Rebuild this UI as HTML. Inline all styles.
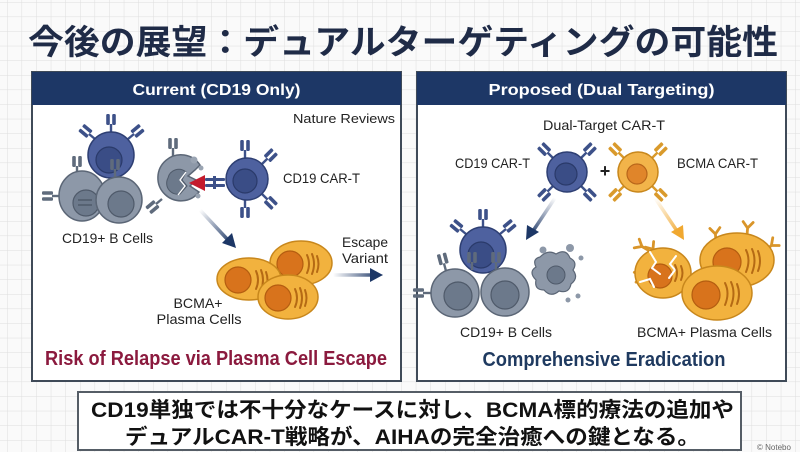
<!DOCTYPE html>
<html><head><meta charset="utf-8"><style>
html,body{margin:0;padding:0;background:#fff;}
svg{display:block;}
text{font-family:"Liberation Sans","Noto Sans CJK JP",sans-serif;}
</style></head><body>
<svg width="800" height="452" viewBox="0 0 800 452" xmlns="http://www.w3.org/2000/svg">
<defs>
<pattern id="grid" width="14.6" height="14.6" patternUnits="userSpaceOnUse" x="7" y="2">
<path d="M14.6 0 L0 0 0 14.6" fill="none" stroke="#dedede" stroke-width="1"/>
</pattern>
<g id="rc"><rect x="-1.2" y="-8" width="2.4" height="8"/><rect x="-4.8" y="-18" width="3.6" height="11" rx="1.2"/><rect x="1.2" y="-18" width="3.6" height="11" rx="1.2"/></g>
<g id="ab" fill="none" stroke-width="2.8" stroke-linecap="round"><path d="M0 0 L0 -7 M0 -7 L-5 -13 M0 -7 L5 -13"/></g>
<linearGradient id="ga1" gradientUnits="userSpaceOnUse" x1="200" y1="210" x2="232" y2="244"><stop offset="0" stop-color="#1d3766" stop-opacity="0"/><stop offset="1" stop-color="#1d3766"/></linearGradient>
<linearGradient id="ga2" gradientUnits="userSpaceOnUse" x1="333" y1="0" x2="380" y2="0"><stop offset="0" stop-color="#1d3766" stop-opacity="0"/><stop offset="1" stop-color="#1d3766"/></linearGradient>
<linearGradient id="ga3" gradientUnits="userSpaceOnUse" x1="555" y1="198" x2="530" y2="236"><stop offset="0" stop-color="#1d3766" stop-opacity="0"/><stop offset="1" stop-color="#1d3766"/></linearGradient>
<linearGradient id="ga4" gradientUnits="userSpaceOnUse" x1="655" y1="198" x2="680" y2="236"><stop offset="0" stop-color="#f0a830" stop-opacity="0"/><stop offset="1" stop-color="#f0a830"/></linearGradient>
</defs>
<rect width="800" height="452" fill="#fafafa"/>
<rect width="800" height="452" fill="url(#grid)"/>

<!-- Title -->
<text x="28" y="54" font-size="34" font-weight="bold" fill="#1f2b47" textLength="750" lengthAdjust="spacingAndGlyphs">今後の展望：デュアルターゲティングの可能性</text>

<!-- Left panel -->
<rect x="32" y="72" width="369" height="309" fill="#fff" stroke="#3f4a58" stroke-width="2"/>
<rect x="32" y="72" width="369" height="33" fill="#1d3766"/>
<text x="216.5" y="95" font-size="16" font-weight="bold" fill="#fff" text-anchor="middle" textLength="168" lengthAdjust="spacingAndGlyphs">Current (CD19 Only)</text>

<!-- Right panel -->
<rect x="417" y="72" width="369" height="309" fill="#fff" stroke="#3f4a58" stroke-width="2"/>
<rect x="417" y="72" width="369" height="33" fill="#1d3766"/>
<text x="601.5" y="95" font-size="16" font-weight="bold" fill="#fff" text-anchor="middle" textLength="226" lengthAdjust="spacingAndGlyphs">Proposed (Dual Targeting)</text>

<!-- LEFT CONTENT -->
<text x="395" y="123" font-size="13" fill="#222" text-anchor="end" textLength="102" lengthAdjust="spacingAndGlyphs">Nature Reviews</text>

<!-- blue B cell behind -->
<g fill="#3d5189">
<use href="#rc" transform="translate(111,132)"/>
<use href="#rc" transform="translate(95,139) rotate(-50)"/>
<use href="#rc" transform="translate(128,139) rotate(50)"/>
</g>
<circle cx="111" cy="155" r="23" fill="#4e619f" stroke="#2e3f73" stroke-width="1.5"/>
<circle cx="109" cy="160" r="13" fill="#3a4d86" stroke="#2a3a6a" stroke-width="1.2"/>
<!-- gray cells -->
<g fill="#5f6b7c">
<use href="#rc" transform="translate(60,196) rotate(-90)"/>
<use href="#rc" transform="translate(77,174)"/>
<use href="#rc" transform="translate(115,177)"/>
</g>
<ellipse cx="82" cy="196" rx="23" ry="25" fill="#8d98a8" stroke="#5b6676" stroke-width="1.5"/>
<circle cx="86" cy="203" r="13" fill="#6c798b" stroke="#4f5a6a" stroke-width="1.2"/>
<path d="M78 200 h14 M78 205 h14" stroke="#4f5a6a" stroke-width="1.5"/>
<circle cx="119" cy="200" r="23" fill="#8d98a8" stroke="#5b6676" stroke-width="1.5"/>
<circle cx="121" cy="204" r="13" fill="#6c798b" stroke="#4f5a6a" stroke-width="1.2"/>

<!-- damaged gray cell -->
<g fill="#5f6b7c">
<use href="#rc" transform="translate(173,156)"/>
<use href="#rc" transform="translate(162,199) rotate(-130)"/>
</g>
<path d="M200 165 A23 23 0 1 0 199 192 L190 186 L196 180 L188 176 L195 170 Z" fill="#8d98a8" stroke="#5b6676" stroke-width="1.5"/>
<path d="M168 178 A11 11 0 0 1 186 172 L182 180 L187 186 L180 194 A11 11 0 0 1 168 178 Z" fill="#6c798b" stroke="#4f5a6a" stroke-width="1"/>
<path d="M186 172 L180 180 L185 186 L178 195" fill="none" stroke="#fff" stroke-width="1.3"/>
<circle cx="194" cy="160" r="3.5" fill="#9aa4b2"/>
<circle cx="201" cy="168" r="2.5" fill="#9aa4b2"/>
<circle cx="198" cy="196" r="2.5" fill="#9aa4b2"/>
<polygon points="189,183 205,175 205,191" fill="#c41a2c"/>
<g fill="#3d5189"><rect x="205" y="178" width="20" height="3" rx="1"/><rect x="205" y="184" width="20" height="3" rx="1"/><rect x="213" y="176" width="3" height="13"/></g>

<!-- CAR-T -->
<g fill="#3d5189">
<use href="#rc" transform="translate(245,158)"/>
<use href="#rc" transform="translate(262,164) rotate(45)"/>
<use href="#rc" transform="translate(245,200) rotate(180)"/>
<use href="#rc" transform="translate(262,194) rotate(135)"/>
</g>
<circle cx="247" cy="179" r="21" fill="#4e619f" stroke="#2e3f73" stroke-width="1.5"/>
<circle cx="245" cy="181" r="12" fill="#3a4d86" stroke="#2a3a6a" stroke-width="1.2"/>
<text x="283" y="183" font-size="14" fill="#222" textLength="77" lengthAdjust="spacingAndGlyphs">CD19 CAR-T</text>

<text x="62" y="243" font-size="14" fill="#222" textLength="91" lengthAdjust="spacingAndGlyphs">CD19+ B Cells</text>

<!-- arrow down -->
<line x1="200" y1="210" x2="228" y2="240" stroke="url(#ga1)" stroke-width="3.5"/>
<polygon points="236,248 222,243 232,233" fill="#1d3766"/>

<!-- plasma cells left -->
<g stroke-linecap="round">
<ellipse cx="301" cy="263" rx="31" ry="22" fill="#f2b23e" stroke="#c8871c" stroke-width="1.5"/>
<circle cx="290" cy="264" r="13" fill="#d8731c" stroke="#b45d10" stroke-width="1.2"/>
<path d="M307 255 q4 9 0 18 M312 254 q4 10 0 20 M317 256 q3 8 0 16" fill="none" stroke="#b56a14" stroke-width="2"/>
<ellipse cx="249" cy="279" rx="32" ry="21" fill="#f2b23e" stroke="#c8871c" stroke-width="1.5"/>
<circle cx="238" cy="280" r="13" fill="#d8731c" stroke="#b45d10" stroke-width="1.2"/>
<path d="M256 271 q4 9 0 18 M261 270 q4 10 0 20 M266 272 q3 8 0 16" fill="none" stroke="#b56a14" stroke-width="2"/>
<ellipse cx="288" cy="297" rx="30" ry="22" fill="#f2b23e" stroke="#c8871c" stroke-width="1.5"/>
<circle cx="278" cy="298" r="13" fill="#d8731c" stroke="#b45d10" stroke-width="1.2"/>
<path d="M295 289 q4 9 0 18 M300 288 q4 10 0 20 M305 290 q3 8 0 16" fill="none" stroke="#b56a14" stroke-width="2"/>
</g>

<text x="365" y="247" font-size="14" fill="#222" text-anchor="middle" textLength="46" lengthAdjust="spacingAndGlyphs">Escape</text>
<text x="365" y="263" font-size="14" fill="#222" text-anchor="middle" textLength="46" lengthAdjust="spacingAndGlyphs">Variant</text>
<line x1="333" y1="275" x2="372" y2="275" stroke="url(#ga2)" stroke-width="3.5"/>
<polygon points="383,275 370,268 370,282" fill="#1d3766"/>

<text x="198" y="308" font-size="14" fill="#222" text-anchor="middle" textLength="49" lengthAdjust="spacingAndGlyphs">BCMA+</text>
<text x="199" y="324" font-size="14" fill="#222" text-anchor="middle" textLength="85" lengthAdjust="spacingAndGlyphs">Plasma Cells</text>

<text x="216" y="365" font-size="20" font-weight="bold" fill="#8b1a3e" text-anchor="middle" textLength="342" lengthAdjust="spacingAndGlyphs">Risk of Relapse via Plasma Cell Escape</text>

<!-- RIGHT CONTENT -->
<text x="604" y="130" font-size="14" fill="#222" text-anchor="middle" textLength="122" lengthAdjust="spacingAndGlyphs">Dual-Target CAR-T</text>
<text x="455" y="168" font-size="14" fill="#222" textLength="75" lengthAdjust="spacingAndGlyphs">CD19 CAR-T</text>
<text x="677" y="168" font-size="14" fill="#222" textLength="81" lengthAdjust="spacingAndGlyphs">BCMA CAR-T</text>

<g fill="#3d5189">
<use href="#rc" transform="translate(553,158) rotate(-45)"/>
<use href="#rc" transform="translate(581,158) rotate(45)"/>
<use href="#rc" transform="translate(553,186) rotate(-135)"/>
<use href="#rc" transform="translate(581,186) rotate(135)"/>
</g>
<circle cx="567" cy="172" r="20" fill="#4e619f" stroke="#2e3f73" stroke-width="1.5"/>
<circle cx="566" cy="174" r="11" fill="#3a4d86" stroke="#2a3a6a" stroke-width="1.2"/>
<text x="605" y="177" font-size="18" font-weight="bold" fill="#222" text-anchor="middle">+</text>
<g fill="#d99a2c">
<use href="#rc" transform="translate(624,158) rotate(-45)"/>
<use href="#rc" transform="translate(652,158) rotate(45)"/>
<use href="#rc" transform="translate(624,186) rotate(-135)"/>
<use href="#rc" transform="translate(652,186) rotate(135)"/>
</g>
<circle cx="638" cy="172" r="20" fill="#f2b44a" stroke="#c8871c" stroke-width="1.5"/>
<circle cx="637" cy="174" r="10" fill="#e0852a" stroke="#b8661a" stroke-width="1.2"/>

<line x1="555" y1="198" x2="533" y2="231" stroke="url(#ga3)" stroke-width="3.5"/>
<polygon points="526,240 527,225 539,232" fill="#1d3766"/>
<line x1="655" y1="198" x2="677" y2="231" stroke="url(#ga4)" stroke-width="3.5"/>
<polygon points="684,240 671,232 683,225" fill="#f0a830"/>

<!-- right B cells -->
<g fill="#3d5189">
<use href="#rc" transform="translate(483,227)"/>
<use href="#rc" transform="translate(466,234) rotate(-50)"/>
<use href="#rc" transform="translate(500,234) rotate(50)"/>
</g>
<circle cx="483" cy="250" r="23" fill="#4e619f" stroke="#2e3f73" stroke-width="1.5"/>
<circle cx="481" cy="255" r="13" fill="#3a4d86" stroke="#2a3a6a" stroke-width="1.2"/>
<g fill="#5f6b7c">
<use href="#rc" transform="translate(431,293) rotate(-90)"/>
<use href="#rc" transform="translate(446,271) rotate(-15)"/>
<use href="#rc" transform="translate(472,270)"/>
<use href="#rc" transform="translate(496,270)"/>
</g>
<circle cx="455" cy="293" r="24" fill="#8d98a8" stroke="#5b6676" stroke-width="1.5"/>
<circle cx="458" cy="296" r="14" fill="#6c798b" stroke="#4f5a6a" stroke-width="1.2"/>
<circle cx="505" cy="292" r="24" fill="#8d98a8" stroke="#5b6676" stroke-width="1.5"/>
<circle cx="505" cy="295" r="14" fill="#6c798b" stroke="#4f5a6a" stroke-width="1.2"/>
<!-- debris -->
<path d="M540 257 q8 -8 16 -3 q10 -6 14 4 q8 4 3 12 q6 8 -2 14 q-2 10 -12 7 q-8 7 -15 -1 q-10 0 -8 -10 q-8 -8 0 -13 q-4 -8 4 -10 Z" fill="#8d98a8" stroke="#5b6676" stroke-width="1.2"/>
<circle cx="556" cy="275" r="9" fill="#6c798b" stroke="#4f5a6a" stroke-width="1"/>
<circle cx="543" cy="250" r="3.5" fill="#8d98a8"/>
<circle cx="570" cy="248" r="4" fill="#8d98a8"/>
<circle cx="581" cy="258" r="2.5" fill="#8d98a8"/>
<circle cx="578" cy="296" r="2.5" fill="#8d98a8"/>
<circle cx="568" cy="300" r="2.5" fill="#8d98a8"/>

<!-- right plasma cells -->
<g stroke="#d9952a">
<use href="#ab" transform="translate(657,255) rotate(-35)"/>
<use href="#ab" transform="translate(648,275) rotate(-100)"/>
<use href="#ab" transform="translate(716,241) rotate(-5)"/>
<use href="#ab" transform="translate(747,235) rotate(5)"/>
<use href="#ab" transform="translate(766,250) rotate(50)"/>
<use href="#ab" transform="translate(648,250) rotate(-60)"/>
</g>
<g stroke-linecap="round">
<ellipse cx="737" cy="260" rx="37" ry="27" fill="#f2b23e" stroke="#c8871c" stroke-width="1.5"/>
<circle cx="727" cy="262" r="14" fill="#d8731c" stroke="#b45d10" stroke-width="1.2"/>
<path d="M746 250 q5 10 0 22 M752 249 q5 11 0 24 M758 251 q4 10 0 20" fill="none" stroke="#b56a14" stroke-width="2"/>
<ellipse cx="663" cy="273" rx="28" ry="25" fill="#f2b23e" stroke="#c8871c" stroke-width="1.5"/>
<circle cx="660" cy="276" r="12" fill="#d8731c" stroke="#b45d10" stroke-width="1.2"/>
<path d="M650 252 l6 10 l-4 6 l8 6 M676 256 l-6 8 l5 6 l-6 8 M640 282 l10 -3 l4 8" fill="none" stroke="#fff" stroke-width="2"/>
<path d="M675 265 q4 8 0 16 M681 266 q3 7 0 14" fill="none" stroke="#b56a14" stroke-width="2"/>
<ellipse cx="717" cy="293" rx="35" ry="27" fill="#f2b23e" stroke="#c8871c" stroke-width="1.5"/>
<circle cx="706" cy="295" r="14" fill="#d8731c" stroke="#b45d10" stroke-width="1.2"/>
<path d="M725 283 q5 10 0 22 M731 282 q5 11 0 24 M737 284 q4 10 0 20" fill="none" stroke="#b56a14" stroke-width="2"/>
</g>

<text x="460" y="337" font-size="14" fill="#222" textLength="92" lengthAdjust="spacingAndGlyphs">CD19+ B Cells</text>
<text x="637" y="337" font-size="14" fill="#222" textLength="135" lengthAdjust="spacingAndGlyphs">BCMA+ Plasma Cells</text>
<text x="604" y="366" font-size="20" font-weight="bold" fill="#1f3a60" text-anchor="middle" textLength="243" lengthAdjust="spacingAndGlyphs">Comprehensive Eradication</text>

<!-- bottom box -->
<rect x="78" y="392" width="663" height="58" fill="#fff" stroke="#555d66" stroke-width="2"/>
<text x="91" y="417" font-size="21" font-weight="bold" fill="#111" textLength="643" lengthAdjust="spacingAndGlyphs">CD19単独では不十分なケースに対し、BCMA標的療法の追加や</text>
<text x="125" y="444" font-size="21" font-weight="bold" fill="#111" textLength="575" lengthAdjust="spacingAndGlyphs">デュアルCAR-T戦略が、AIHAの完全治癒への鍵となる。</text>

<text x="757" y="450" font-size="8" fill="#666">© Notebo</text>
</svg>
</body></html>
